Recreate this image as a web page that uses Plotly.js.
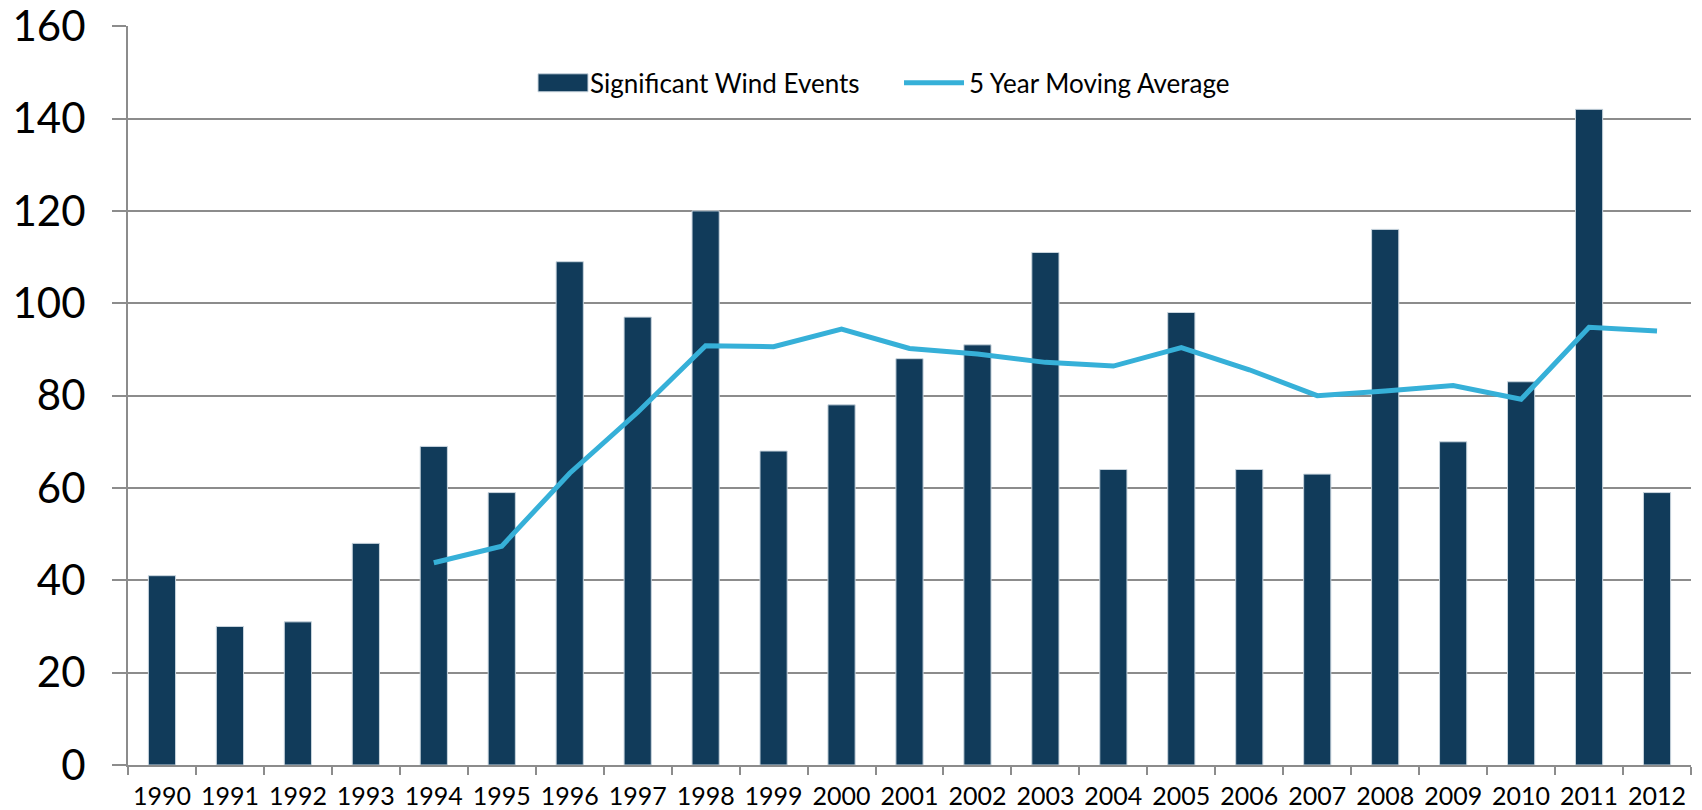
<!DOCTYPE html>
<html>
<head>
<meta charset="utf-8">
<script src="https://cdn.plot.ly/plotly-3.0.1.min.js"></script>
<style>
  html, body { margin: 0; padding: 0; background: #fff; }
  #chart { width: 1702px; height: 810px; }
</style>
</head>
<body>
<div id="chart"></div>
<script>
  var years = ['1990','1991','1992','1993','1994','1995','1996','1997','1998','1999','2000',
               '2001','2002','2003','2004','2005','2006','2007','2008','2009','2010','2011','2012'];
  var windEvents = [41,30,31,48,69,59,109,97,120,68,78,88,91,111,64,98,64,63,116,70,83,142,59];
  var avgYears = ['1994','1995','1996','1997','1998','1999','2000','2001','2002','2003','2004',
                  '2005','2006','2007','2008','2009','2010','2011','2012'];
  var movingAvg = [43.8,47.4,63.2,76.4,90.8,90.6,94.4,90.2,89,87.2,86.4,90.4,85.6,80,81,82.2,79.2,94.8,94];
  var yTicks = [0,20,40,60,80,100,120,140,160];

  var barTrace = {
    type: 'bar',
    name: 'Significant Wind Events',
    x: years,
    y: windEvents,
    marker: {color: '#113b5a', line: {color: '#c9d5de', width: 1}}
  };

  var avgTrace = {
    type: 'scatter',
    mode: 'lines',
    name: '5 Year Moving Average',
    x: avgYears,
    y: movingAvg,
    line: {color: '#36b0d8', width: 5}
  };

  var layout = {
    width: 1702,
    height: 810,
    margin: {l: 128, r: 11, t: 26, b: 45},
    paper_bgcolor: '#fff',
    plot_bgcolor: '#fff',
    font: {family: 'Lato, "Open Sans", sans-serif', color: '#000'},
    bargap: 0.6,
    showlegend: true,
    legend: {
      orientation: 'h',
      x: 0.270, y: 0.923,
      xanchor: 'left', yanchor: 'middle',
      font: {size: 26, color: '#000'},
      bgcolor: 'rgba(0,0,0,0)',
      traceorder: 'normal',
      entrywidth: 334
    },
    xaxis: {
      type: 'category',
      showline: true,
      linecolor: '#8c8c8c',
      linewidth: 2,
      ticks: 'outside',
      tickson: 'boundaries',
      ticklen: 8,
      tickcolor: '#8c8c8c',
      tickwidth: 1.5,
      showgrid: false,
      tickfont: {size: 25},
      ticklabelstandoff: 8,
      fixedrange: true
    },
    yaxis: {
      range: [0, 160.05],
      tickvals: yTicks,
      showline: true,
      linecolor: '#8c8c8c',
      linewidth: 2,
      ticks: 'outside',
      ticklen: 14,
      tickcolor: '#8c8c8c',
      tickwidth: 2,
      showgrid: true,
      gridcolor: '#8c8c8c',
      gridwidth: 2,
      zeroline: false,
      tickfont: {size: 42},
      ticklabelstandoff: 18,
      ticklabeloverflow: 'allow',
      fixedrange: true
    }
  };

  Plotly.newPlot('chart', [barTrace, avgTrace], layout, {displayModeBar: false, responsive: false})
    .then(function () {
      // legend swatches: flat rectangle for the bars, longer stroke for the line
      var box = document.querySelector('#chart .legend .scrollbox');
      if (box) box.removeAttribute('clip-path');
      var sw = document.querySelector('#chart .legend .legendpoints path');
      if (sw) sw.setAttribute('d', 'M18,9H-32V-9H18Z');
      var ln = document.querySelector('#chart .legend .legendlines path');
      if (ln) ln.setAttribute('d', 'M-25,0h60');
    });
</script>
</body>
</html>
